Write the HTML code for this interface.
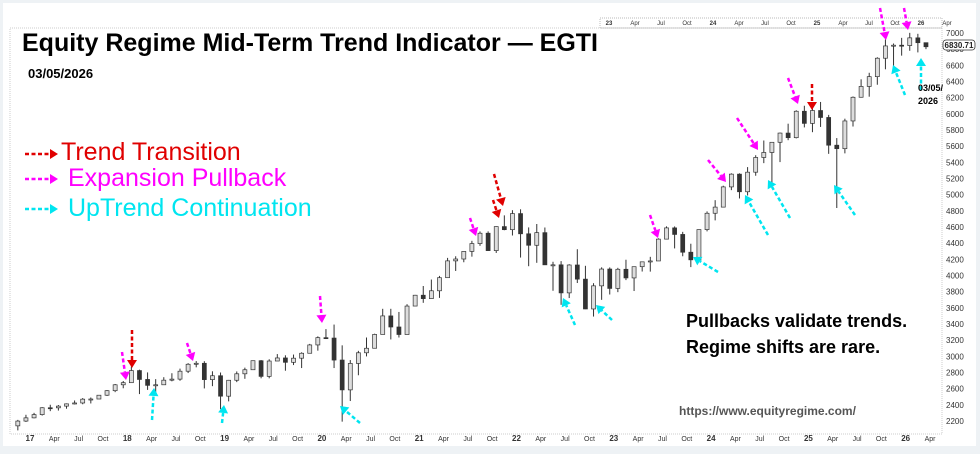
<!DOCTYPE html>
<html><head><meta charset="utf-8">
<style>
body{margin:0;width:980px;height:454px;background:#eef2f5;overflow:hidden;font-family:"Liberation Sans",Arial,sans-serif}
#panel{position:absolute;left:3px;top:3px;width:973px;height:443px;background:#fff}
svg{position:absolute;left:0;top:0}
</style></head><body>
<div id="panel"></div>
<svg id="chart" width="980" height="454"></svg>
<script>
// monthly data starting Nov 2016
const closes=[2199,2239,2279,2364,2363,2384,2412,2423,2470,2472,2519,2575,2648,2674,
2824,2714,2641,2648,2705,2718,2816,2902,2914,2712,2760,2507,
2704,2784,2834,2946,2752,2942,2980,2926,2977,3038,3141,3231,
3226,2954,2585,2912,3044,3100,3271,3500,3363,3270,3622,3756,
3714,3811,3973,4181,4204,4298,4395,4523,4308,4605,4567,4766,
4516,4374,4530,4132,4132,3785,4130,3955,3586,3872,4080,3840,
4077,3970,4109,4169,4180,4450,4589,4508,4288,4194,4568,4770,
4846,5096,5254,5036,5278,5460,5522,5648,5762,5705,6032,5882,
6041,5955,5612,5569,5912,6205,6339,6460,6688,6840,6849,6845,
6940,6880,6830];
const highs=[2214,2277,2301,2371,2401,2398,2418,2454,2484,2491,2520,2582,2658,2695,
2873,2835,2801,2718,2742,2791,2848,2916,2941,2940,2815,2800,
2708,2813,2860,2949,2954,2964,3028,3013,3022,3050,3154,3247,
3337,3393,3136,2954,3068,3233,3280,3588,3588,3549,3645,3760,
3870,3950,3995,4218,4238,4302,4429,4545,4546,4608,4744,4808,
4819,4595,4637,4594,4170,4178,4140,4325,4120,3905,4101,4100,
4095,4195,4111,4170,4231,4460,4608,4607,4540,4393,4570,4793,
4932,5111,5264,5264,5341,5488,5670,5651,5768,5878,6044,6100,
6128,6147,5987,5700,5940,6215,6427,6508,6700,6920,6870,6940,
7002,6990,6880];
const lows=[2084,2188,2233,2267,2322,2329,2352,2405,2407,2417,2480,2510,2557,2605,
2683,2533,2585,2553,2676,2691,2698,2793,2864,2603,2631,2346,
2443,2681,2722,2848,2728,2728,2945,2822,2892,2855,3050,3070,
3214,2855,2192,2447,2766,2999,3127,3284,3209,3233,3280,3623,
3662,3806,3723,3975,4056,4164,4233,4367,4306,4279,4560,4495,
4222,4115,4157,4131,3811,3637,3721,3907,3584,3492,3699,3765,
3794,3943,3808,4049,4048,4200,4450,4335,4238,4104,4202,4546,
4682,4845,5056,4953,4990,5234,5390,5120,5403,5674,5696,5832,
5773,5838,5505,4835,5511,5843,6201,6212,6360,6551,6521,6720,
6780,6760,6800];
const yTicks=[2200,2400,2600,2800,3000,3200,3400,3600,3800,4000,4200,4400,4600,4800,5000,5200,5400,5600,5800,6000,6200,6400,6600,6800,7000];
const xLabels=["17","Apr","Jul","Oct","18","Apr","Jul","Oct","19","Apr","Jul","Oct","20","Apr","Jul","Oct","21","Apr","Jul","Oct","22","Apr","Jul","Oct","23","Apr","Jul","Oct","24","Apr","Jul","Oct","25","Apr","Jul","Oct","26","Apr"];
const miniLabels=["23","Apr","Jul","Oct","24","Apr","Jul","Oct","25","Apr","Jul","Oct","26","Apr"];

const NS="http://www.w3.org/2000/svg";
const svg=document.getElementById('chart');
function el(t,a,p){const e=document.createElementNS(NS,t);for(const k in a)e.setAttribute(k,a[k]);(p||svg).appendChild(e);return e;}
const yS=v=>33+(7000-v)*(388/4800);
const mW=97.3/12;
const xS=i=>30+(i-2)*mW;
const L=10,R=942,T=28,B=434;

const frame=el('rect',{x:L,y:T,width:R-L,height:B-T,fill:'none',stroke:'#ccc','stroke-dasharray':'1,1'});



yTicks.forEach(v=>{
 const t=el('text',{x:946,y:yS(v)+3,'font-size':8,fill:'#333'});
 t.textContent=v;
 
 
});
xLabels.forEach((s,k)=>{
 const x=xS(2+k*3);
 const t=el('text',{x:x,y:441,'font-size':/^\d/.test(s)?8:7,'font-weight':/^\d/.test(s)?'bold':'normal','text-anchor':'middle',fill:'#333'});
 t.textContent=s;
 
 
});
const mini=el('rect',{x:600,y:18,width:342,height:10,fill:'none',stroke:'#bbb','stroke-dasharray':'1,1'});


miniLabels.forEach((s,k)=>{
 const t=el('text',{x:609+k*26,y:25,'font-size':6,'font-weight':/^\d/.test(s)?'bold':'normal','text-anchor':'middle',fill:'#333'});
 t.textContent=s;
 
 
});

closes.forEach((c,i)=>{
 const o=i?closes[i-1]:2140;
 const x0=xS(i), xm=x0+mW/2;
 const g=el('g',{});
 
 
 el('line',{x1:xm,x2:xm,y1:yS(highs[i]),y2:yS(lows[i]),stroke:'#333','stroke-width':1},g);
 const top=yS(Math.max(o,c)),bot=yS(Math.min(o,c));
 el('rect',{x:xm-2,y:top,width:4,height:Math.max(1,bot-top),fill:c>=o?'#ddd':'#333',stroke:'#333','stroke-width':0.7},g);
});

const pb=el('rect',{x:943,y:40,width:32,height:10,rx:3,fill:'#fff',stroke:'#333','stroke-width':0.8});


const pt=el('text',{x:959,y:48,'font-size':8,'font-weight':'bold','text-anchor':'middle',fill:'#222'});
pt.textContent='6830.71';



const RED='#e00000',MAG='#ff00ff',CY='#00e5f0';
const arrows=[
 [RED,132,330,132,368],[RED,494,174,503,206],[RED,493,200,499,218],[RED,812,84,812,110],
 [MAG,122,352,126,380],[MAG,187,343,193,361],[MAG,320,296,322,323],[MAG,470,218,476,236],
 [MAG,650,215,658,238],[MAG,708,160,726,182],[MAG,737,118,758,150],[MAG,788,78,798,104],
 [MAG,880,8,886,40],[MAG,904,8,908,30],
 [CY,152,420,154,388],[CY,222,423,224,405],[CY,360,423,340,406],[CY,575,325,563,298],
 [CY,612,320,596,305],[CY,718,272,693,257],[CY,768,235,745,195],[CY,790,218,768,180],
 [CY,855,215,834,185],[CY,905,95,893,65],[CY,921,90,921,58],
 [RED,25,154,58,154],[MAG,25,179,58,179],[CY,25,209,58,209]
];
arrows.forEach(a=>{
 const [c,x1,y1,x2,y2]=a;
 const g=el('g',{});
 
 
 const dx=x2-x1,dy=y2-y1,len=Math.hypot(dx,dy),ux=dx/len,uy=dy/len;
 const hx=x2-ux*8,hy=y2-uy*8;
 el('line',{x1:x1,y1:y1,x2:hx,y2:hy,stroke:c,'stroke-width':2.5,'stroke-dasharray':'4,2.5'},g);
 el('polygon',{points:`${x2},${y2} ${hx-uy*5},${hy+ux*5} ${hx+uy*5},${hy-ux*5}`,fill:c},g);
});

function txt(name,s,x,y,size,color,weight){
 const t=el('text',{x:x,y:y,'font-size':size,fill:color,'font-weight':weight||'bold'});
 t.textContent=s;
 
 
 return t;
}
txt('chart-title','Equity Regime Mid-Term Trend Indicator — EGTI',22,51,25,'#000');
txt('chart-date','03/05/2026',28,78,13,'#000');
txt('legend-trend-transition','Trend Transition',61,160,25,RED,'normal');
txt('legend-expansion-pullback','Expansion Pullback',68,186,25,MAG,'normal');
txt('legend-uptrend-continuation','UpTrend Continuation',68,216,25,CY,'normal');
txt('note-line-1','Pullbacks validate trends.',686,327,18,'#000');
txt('note-line-2','Regime shifts are rare.',686,353,18,'#000');
txt('website-url','https://www.equityregime.com/',679,415,12,'#555');
txt('end-date-line-1','03/05/',918,91,9,'#000');
txt('end-date-line-2','2026',918,104,9,'#000');
</script>
</body></html>
